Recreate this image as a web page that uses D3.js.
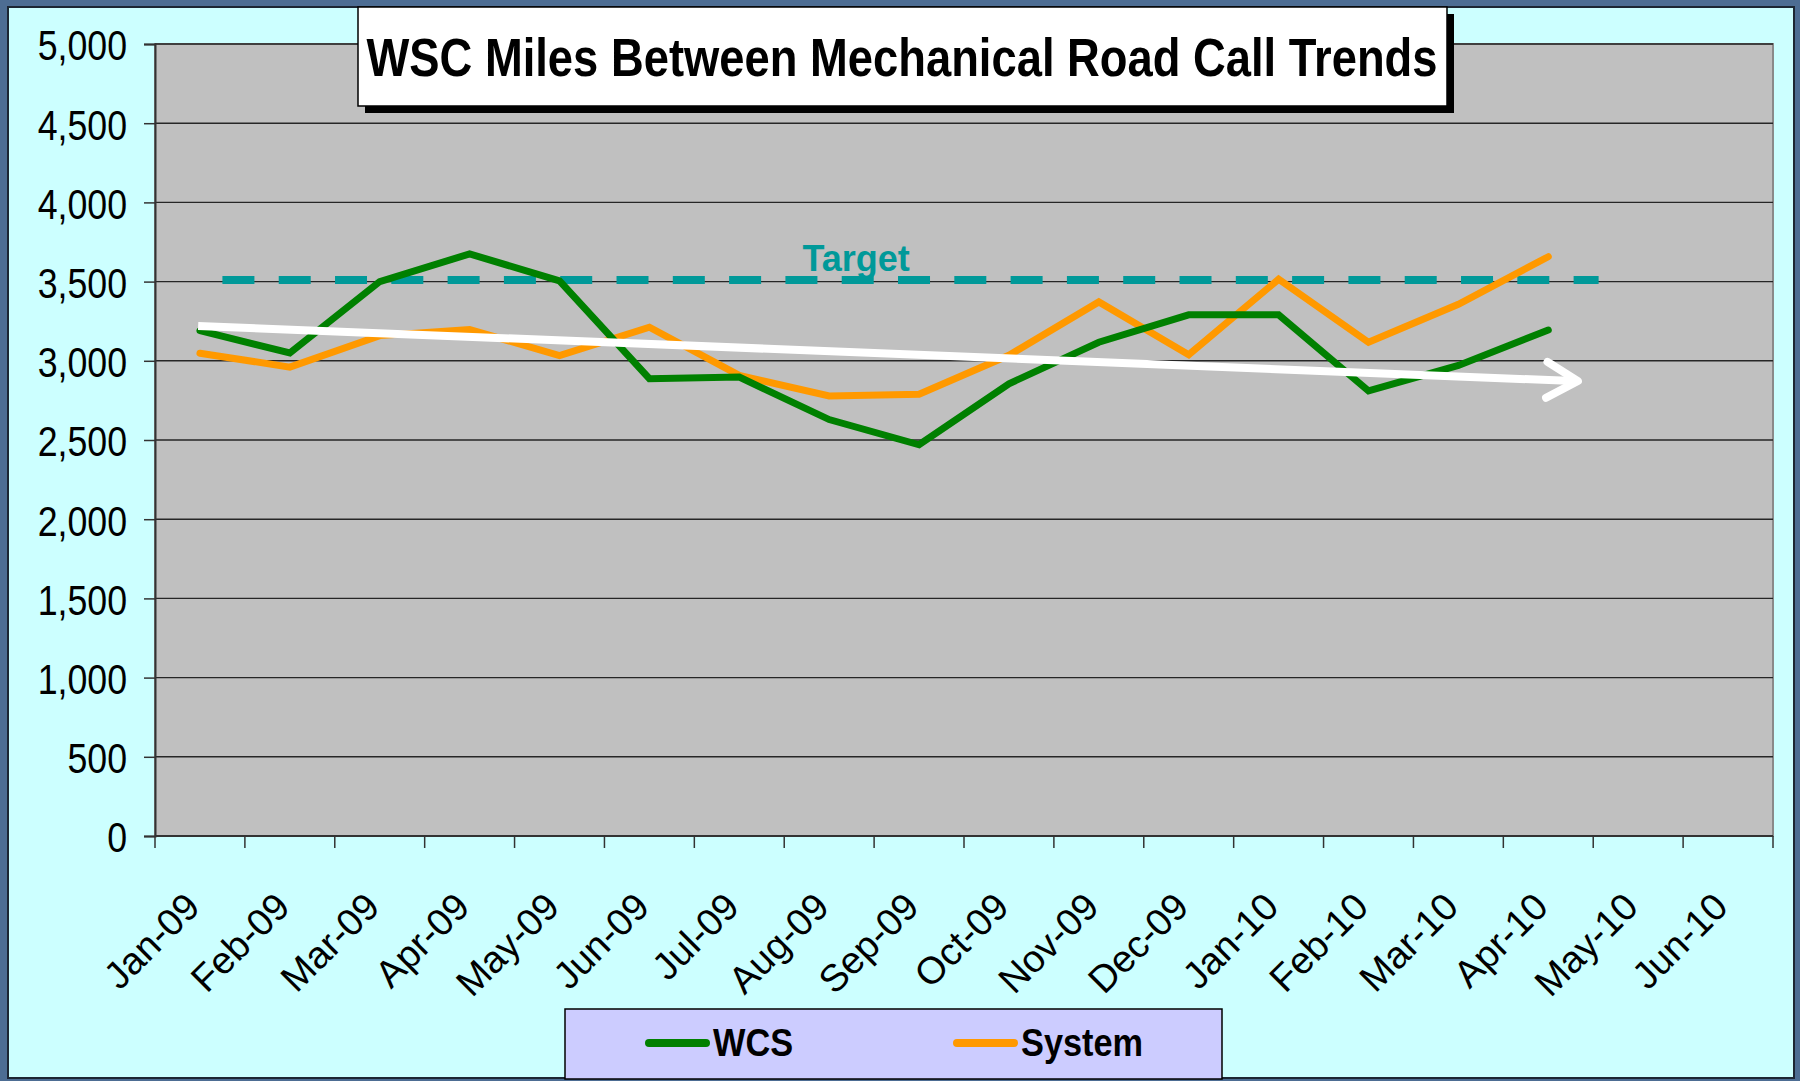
<!DOCTYPE html>
<html>
<head>
<meta charset="utf-8">
<script src="https://cdn.jsdelivr.net/npm/d3@7"></script>
<style>
  html, body { margin: 0; padding: 0; background: #4d6d93; }
  svg { display: block; }
</style>
</head>
<body>
<div id="chart"></div>
<script>
'use strict'

////////////////////////////////////
/////////////// data ///////////////
////////////////////////////////////

const months = ['Jan-09', 'Feb-09', 'Mar-09', 'Apr-09', 'May-09', 'Jun-09', 'Jul-09', 'Aug-09', 'Sep-09',
    'Oct-09', 'Nov-09', 'Dec-09', 'Jan-10', 'Feb-10', 'Mar-10', 'Apr-10', 'May-10', 'Jun-10']

const wcs = [3190, 3050, 3500, 3675, 3505, 2887, 2897, 2629, 2470, 2855, 3117, 3290, 3290, 2810, 2971, 3194]
const system = [3048, 2960, 3159, 3197, 3033, 3212, 2908, 2778, 2789, 3035, 3372, 3038, 3515, 3117, 3357, 3657]

const yTicks = [0, 500, 1000, 1500, 2000, 2500, 3000, 3500, 4000, 4500, 5000]

// target line: value and span in month index units
const target = 3510
const targetSpan = [0.25, 15.56]

// hand drawn trend arrow: [month index, value]
const trendArrow = [[-0.02, 3220], [15.33, 2872]]

const titleText = 'WSC Miles Between Mechanical Road Call Trends'

////////////////////////////////////
//////////// svg setup /////////////
////////////////////////////////////

const svgWidth = 1800
const svgHeight = 1081
const margin = { left: 155, right: 27, top: 44, bottom: 245 }
const width = svgWidth - margin.left - margin.right
const height = svgHeight - margin.top - margin.bottom

// no narrow face installed, so squeeze the regular one
const regular = '"Liberation Sans", Arial, sans-serif'
const squeeze = 0.85

const svg = d3.select('#chart')
    .append('svg')
    .attr('width', svgWidth)
    .attr('height', svgHeight)

// outer frame + light cyan panel
svg.append('rect')
    .attr('width', svgWidth).attr('height', svgHeight)
    .attr('fill', '#4d6d93')

svg.append('rect')
    .attr('x', 8).attr('y', 7)
    .attr('width', 1786).attr('height', 1071)
    .attr('fill', '#ccffff')
    .attr('stroke', '#1c2633')
    .attr('stroke-width', 2)

const g = svg.append('g')
    .attr('transform', `translate(${margin.left},${margin.top})`)

////////////////////////////////////
////////////// scales //////////////
////////////////////////////////////

const x = d3.scaleBand().domain(months).range([0, width]).padding(0)
const xi = d3.scaleLinear().domain([-0.5, months.length - 0.5]).range([0, width])
const y = d3.scaleLinear().domain([0, 5000]).range([height, 0])

// plot background
g.append('rect')
    .attr('width', width).attr('height', height)
    .attr('fill', '#c0c0c0')
    .attr('stroke', '#8a8a8a')
    .attr('stroke-width', 2)

// gridlines
g.append('g')
    .selectAll('line')
    .data(yTicks.filter(d => d > 0))
    .join('line')
    .attr('x1', 0).attr('x2', width)
    .attr('y1', d => y(d)).attr('y2', d => y(d))
    .attr('stroke', '#262626')
    .attr('stroke-width', 1.4)

////////////////////////////////////
/////////////// axes ///////////////
////////////////////////////////////

const yAxis = g.append('g')
    .call(d3.axisLeft(y).tickValues(yTicks).tickFormat(d3.format(',')).tickSize(11).tickPadding(17))
yAxis.select('.domain').attr('stroke', '#333').attr('stroke-width', 2)
yAxis.selectAll('.tick line').attr('stroke', '#333').attr('stroke-width', 1.5)
yAxis.selectAll('.tick text')
    .attr('font-family', regular)
    .attr('font-size', 42)
    .attr('fill', '#000')
    .attr('dy', '0.38em')
    .attr('x', -28 / squeeze)
    .attr('transform', `scale(${squeeze},1)`)

// category ticks sit between months
const edges = months.map(m => x(m)).concat([width])
g.append('g')
    .attr('transform', `translate(0,${height})`)
    .selectAll('line')
    .data(edges)
    .join('line')
    .attr('x1', d => d).attr('x2', d => d)
    .attr('y1', 0).attr('y2', 12)
    .attr('stroke', '#333')
    .attr('stroke-width', 1.5)

g.append('line')
    .attr('x1', 0).attr('x2', width)
    .attr('y1', height).attr('y2', height)
    .attr('stroke', '#333')
    .attr('stroke-width', 2)

g.append('g')
    .selectAll('text')
    .data(months)
    .join('text')
    .attr('transform', d => `translate(${x(d) + x.bandwidth() / 2 + 2},${height + 73}) rotate(-45)`)
    .attr('text-anchor', 'end')
    .attr('font-family', regular)
    .attr('font-size', 38)
    .attr('fill', '#000')
    .text(d => d)

////////////////////////////////////
/////////////// marks //////////////
////////////////////////////////////

// target dashed line
g.append('line')
    .attr('x1', xi(targetSpan[0])).attr('x2', xi(targetSpan[1]))
    .attr('y1', y(target)).attr('y2', y(target))
    .attr('stroke', '#009999')
    .attr('stroke-width', 8)
    .attr('stroke-dasharray', '32 24.3')

g.append('text')
    .attr('x', xi(7.3))
    .attr('y', y(target) - 9)
    .attr('text-anchor', 'middle')
    .attr('font-family', regular)
    .attr('font-weight', 'bold')
    .attr('font-size', 36)
    .attr('fill', '#009999')
    .text('Target')

const line = d3.line()
    .x((d, i) => x(months[i]) + x.bandwidth() / 2)
    .y(d => y(d))

const series = [
    { name: 'WCS', values: wcs, color: '#008000' },
    { name: 'System', values: system, color: '#ff9900' }
]

g.append('g')
    .selectAll('path')
    .data(series.slice().reverse())
    .join('path')
    .attr('d', d => line(d.values))
    .attr('fill', 'none')
    .attr('stroke', d => d.color)
    .attr('stroke-width', 7)
    .attr('stroke-linecap', 'round')
    .attr('stroke-linejoin', 'miter')

// white trend arrow
const p0 = [xi(trendArrow[0][0]), y(trendArrow[0][1])]
const p1 = [xi(trendArrow[1][0]), y(trendArrow[1][1])]
const ang = Math.atan2(p1[1] - p0[1], p1[0] - p0[0])
const headLen = 36
const headAng = Math.PI / 6
const arrow = g.append('g')
    .attr('stroke', '#fff')
    .attr('stroke-width', 8)
    .attr('fill', 'none')
arrow.append('line')
    .attr('x1', p0[0]).attr('y1', p0[1])
    .attr('x2', p1[0] - 4).attr('y2', p1[1])
arrow.append('path')
    .attr('stroke-linecap', 'round')
    .attr('stroke-linejoin', 'round')
    .attr('d', d3.line()([
        [p1[0] - headLen * Math.cos(ang - headAng), p1[1] - headLen * Math.sin(ang - headAng)],
        p1,
        [p1[0] - headLen * Math.cos(ang + headAng), p1[1] - headLen * Math.sin(ang + headAng)]
    ]))

////////////////////////////////////
/////////////// title //////////////
////////////////////////////////////

svg.append('rect')
    .attr('x', 365).attr('y', 14)
    .attr('width', 1089).attr('height', 99)
    .attr('fill', '#000')
svg.append('rect')
    .attr('x', 358).attr('y', 7)
    .attr('width', 1089).attr('height', 99)
    .attr('fill', '#fff')
    .attr('stroke', '#000')
    .attr('stroke-width', 1.5)
svg.append('text')
    .attr('x', 902).attr('y', 76)
    .attr('text-anchor', 'middle')
    .attr('font-family', regular)
    .attr('font-weight', 'bold')
    .attr('font-size', 54)
    .attr('textLength', 1071)
    .attr('lengthAdjust', 'spacingAndGlyphs')
    .text(titleText)

////////////////////////////////////
////////////// legend //////////////
////////////////////////////////////

const legend = svg.append('g')
legend.append('rect')
    .attr('x', 565).attr('y', 1009)
    .attr('width', 657).attr('height', 70)
    .attr('fill', '#ccccff')
    .attr('stroke', '#000')
    .attr('stroke-width', 1.5)

const legendX = [649, 957]
const item = legend.selectAll('.item')
    .data(series)
    .join('g')
    .attr('class', 'item')
    .attr('transform', (d, i) => `translate(${legendX[i]},1043)`)
item.append('line')
    .attr('x1', 0).attr('x2', 57)
    .attr('stroke', d => d.color)
    .attr('stroke-width', 8)
    .attr('stroke-linecap', 'round')
item.append('text')
    .attr('x', 64 / 0.88).attr('y', 13)
    .attr('transform', 'scale(0.88,1)')
    .attr('font-family', regular)
    .attr('font-weight', 'bold')
    .attr('font-size', 39)
    .attr('fill', '#000')
    .text(d => d.name)
</script>
</body>
</html>
